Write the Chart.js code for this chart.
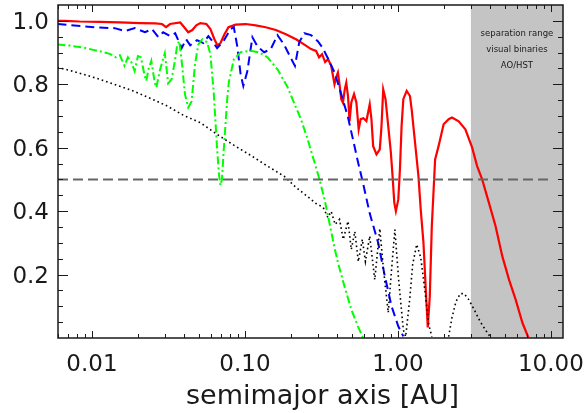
<!DOCTYPE html>
<html>
<head>
<meta charset="utf-8">
<script src="https://cdn.jsdelivr.net/npm/chart.js@4/dist/chart.umd.min.js"></script>
<style>
  html, body { margin: 0; padding: 0; background: #fff; }
  canvas { display: block; }
</style>
</head>
<body>
<canvas id="chart" width="584" height="413"></canvas>
<script>
/* ---- data (semimajor axis in AU, probability) ---- */

// red, solid
const redAU = [0.00595,0.00661,0.0083,0.0112,0.0152,0.0206,0.0259,0.0287,0.0305,0.0324,0.0378,0.0401,0.0426,0.0453,0.0481,0.0511,0.0560,0.0595,0.0632,0.0661,0.0692,0.0735,0.0781,0.0869,0.1011,0.1176,0.1368,0.1592,0.1853,0.2156,0.2433,0.2705,0.2918,0.3053,0.3195,0.3345,0.3500,0.3663,0.3850,0.3951,0.4054,0.4154,0.4262,0.4373,0.4494,0.4597,0.4718,0.4833,0.4959,0.5167,0.5351,0.5540,0.5710,0.5946,0.6222,0.6542,0.6714,0.6891,0.7245,0.7613,0.7812,0.8016,0.8300,0.8647,0.8994,0.9227,0.9469,0.9701,1.006,1.031,1.057,1.085,1.141,1.199,1.230,1.288,1.362,1.410,1.469,1.521,1.568,1.616,1.666,1.751,1.844,1.990,2.146,2.256,2.497,2.760,3.054,3.295,3.554,3.933,4.346,4.812,5.325,5.885,6.515,7.133];
const redP = [1.000,1.000,0.998,0.997,0.995,0.993,0.992,0.990,0.980,0.990,0.995,0.980,0.964,0.971,0.986,0.993,0.990,0.974,0.942,0.923,0.930,0.958,0.980,0.988,0.990,0.986,0.980,0.971,0.958,0.942,0.926,0.911,0.905,0.885,0.895,0.870,0.879,0.858,0.800,0.822,0.837,0.800,0.753,0.742,0.784,0.805,0.763,0.684,0.743,0.769,0.743,0.658,0.690,0.693,0.684,0.737,0.690,0.605,0.579,0.595,0.668,0.784,0.753,0.668,0.585,0.511,0.427,0.400,0.437,0.532,0.668,0.753,0.779,0.763,0.721,0.626,0.511,0.405,0.301,0.153,0.033,0.132,0.353,0.563,0.605,0.674,0.690,0.695,0.683,0.658,0.601,0.542,0.500,0.427,0.353,0.258,0.184,0.121,0.048,0.001];

// blue, dashed
const blueAU = [0.00595,0.00769,0.0109,0.0141,0.0164,0.0191,0.0222,0.0247,0.0271,0.0292,0.0324,0.0350,0.0386,0.0413,0.0439,0.0486,0.0535,0.0577,0.0613,0.0658,0.0724,0.0805,0.0846,0.0891,0.0937,0.0976,0.1037,0.1119,0.1207,0.1334,0.1476,0.1633,0.1797,0.1999,0.2123,0.2266,0.2444,0.2705,0.2995,0.3229,0.3484,0.3850,0.4262,0.4718,0.5087,0.5488,0.5920,0.6542,0.7432,0.8213,0.9090,1.006,1.085];
const blueP = [0.990,0.985,0.979,0.977,0.968,0.977,0.964,0.974,0.949,0.964,0.952,0.961,0.914,0.942,0.923,0.939,0.930,0.952,0.936,0.914,0.936,0.974,0.980,0.920,0.832,0.795,0.841,0.948,0.920,0.901,0.911,0.955,0.926,0.882,0.858,0.933,0.961,0.955,0.936,0.914,0.882,0.838,0.769,0.696,0.626,0.554,0.488,0.393,0.300,0.195,0.100,0.037,0.005];

// green, dash-dot
const greenAU = [0.00595,0.00714,0.00895,0.01124,0.01308,0.01432,0.01521,0.01633,0.01717,0.01798,0.01901,0.01998,0.02091,0.02212,0.02266,0.02343,0.02444,0.02573,0.02637,0.02789,0.02995,0.03078,0.03148,0.03319,0.03484,0.03607,0.03718,0.03850,0.04054,0.04262,0.04480,0.04718,0.04959,0.05267,0.05657,0.05948,0.06252,0.06582,0.06765,0.06922,0.07079,0.07275,0.07659,0.07846,0.08465,0.09370,0.1090,0.1231,0.1404,0.1633,0.1901,0.2101,0.2324,0.2573,0.2848,0.3073,0.3315,0.3575,0.3850,0.4054,0.4480,0.4959,0.5488,0.5920];
const greenP = [0.926,0.922,0.915,0.904,0.896,0.885,0.892,0.858,0.885,0.873,0.842,0.889,0.885,0.826,0.811,0.847,0.874,0.805,0.790,0.847,0.898,0.847,0.803,0.816,0.873,0.923,0.936,0.879,0.769,0.727,0.746,0.863,0.926,0.942,0.933,0.895,0.775,0.595,0.516,0.481,0.500,0.595,0.753,0.806,0.879,0.901,0.906,0.901,0.885,0.847,0.791,0.740,0.690,0.626,0.554,0.500,0.437,0.361,0.285,0.238,0.162,0.090,0.036,0.001];

// black, dotted (null = below the axis)
const blackAU = [0.00595,0.00714,0.00873,0.01124,0.01454,0.01861,0.0240,0.0309,0.0397,0.0511,0.0658,0.0846,0.1090,0.1404,0.1805,0.2156,0.2507,0.2918,0.3245,0.3484,0.3663,0.3892,0.4154,0.4393,0.4718,0.4959,0.5230,0.5512,0.5857,0.6131,0.6542,0.7060,0.7613,0.8051,0.8647,0.9090,0.9557,1.011,1.085,1.124,1.194,1.249,1.327,1.410,1.499,1.592,1.666,1.90,2.146,2.256,2.397,2.558,2.705,2.906,3.148,3.447,3.834,4.012];
const blackP = [0.853,0.844,0.832,0.816,0.797,0.779,0.756,0.732,0.702,0.679,0.642,0.608,0.576,0.542,0.510,0.475,0.450,0.424,0.412,0.380,0.399,0.358,0.374,0.311,0.368,0.279,0.336,0.241,0.311,0.241,0.321,0.184,0.345,0.216,0.080,0.216,0.342,0.184,0.026,0.004,0.121,0.232,0.295,0.254,0.153,0.042,0.004,null,0.004,0.064,0.115,0.140,0.140,0.121,0.090,0.052,0.017,0.004];

// 50% reference line
const halfAU = [0.006, 10];
const halfP = [0.5, 0.5];

// shaded separation range and its note
const shadeFromAU = 3;
const shadeNote = ["separation range", "visual binaries", "AO/HST"];

// axes
const xRange = [0.006, 12];
const yRange = [0, 1.05];
const xTicks = [0.01, 0.1, 1, 10];
const yTicks = [0.2, 0.4, 0.6, 0.8, 1.0];
const xTitle = "semimajor axis [AU]";

/* ---- helpers ---- */
const pairs = (xs, ys) => xs.map((x, i) => ({ x: x, y: ys[i] }));

const INK = "#1a1a1a";

// keep the plot box where the reference has it (no label overhang padding)
function noOverhang(s) {
    s.paddingLeft = 0;
    s.paddingRight = 0;
    s.paddingTop = 0;
    s.paddingBottom = 0;
}

/* ---- shading, frame, inward ticks and axis title (IDL style) ---- */
const idlFrame = {
    id: "idlFrame",
    beforeDatasetsDraw(chart) {
        const { ctx, chartArea: a, scales: { x } } = chart;
        const x0 = x.getPixelForValue(shadeFromAU);
        ctx.save();
        ctx.fillStyle = "#c4c4c4";
        ctx.fillRect(x0, a.top, a.right - x0, a.bottom - a.top);

        ctx.fillStyle = INK;
        ctx.font = "8.5px 'DejaVu Sans'";
        ctx.textAlign = "center";
        ctx.textBaseline = "middle";
        const cx = (x0 + a.right) / 2;
        shadeNote.forEach((t, i) => ctx.fillText(t, cx, 34 + i * 16));
        ctx.restore();
    },
    afterDatasetsDraw(chart) {
        const { ctx, chartArea: a, scales: { x, y } } = chart;
        ctx.save();
        ctx.strokeStyle = INK;
        ctx.lineWidth = 1;

        // x ticks, bottom and top
        const xMinor = [];
        [0.001, 0.01, 0.1, 1, 10].forEach(d => {
            for (let k = 2; k <= 9; k++) xMinor.push(d * k);
        });
        const tickX = (v, len) => {
            if (v < xRange[0] || v > xRange[1]) return;
            const px = Math.round(x.getPixelForValue(v)) + 0.5;
            ctx.beginPath();
            ctx.moveTo(px, a.bottom); ctx.lineTo(px, a.bottom - len);
            ctx.moveTo(px, a.top); ctx.lineTo(px, a.top + len);
            ctx.stroke();
        };
        xMinor.forEach(v => tickX(v, 4));
        xTicks.forEach(v => tickX(v, 7));

        // y ticks, left and right
        const tickY = (v, len) => {
            const py = Math.round(y.getPixelForValue(v)) + 0.5;
            ctx.beginPath();
            ctx.moveTo(a.left, py); ctx.lineTo(a.left + len, py);
            ctx.moveTo(a.right, py); ctx.lineTo(a.right - len, py);
            ctx.stroke();
        };
        for (let i = 1; i <= 20; i++) {
            const v = i * 0.05;
            const major = yTicks.some(t => Math.abs(t - v) < 1e-6);
            tickY(v, major ? 10 : 5);
        }

        // frame
        ctx.lineWidth = 1.5;
        ctx.strokeRect(a.left, a.top, a.right - a.left, a.bottom - a.top);

        // x axis title, sits a little right of the box centre as in the original
        ctx.fillStyle = INK;
        ctx.font = "27px 'DejaVu Sans'";
        ctx.textAlign = "center";
        ctx.textBaseline = "alphabetic";
        ctx.fillText(xTitle, (a.left + a.right) / 2 + 12, 404);
        ctx.restore();
    }
};

/* ---- chart ---- */
new Chart(document.getElementById("chart"), {
    type: "line",
    data: {
        datasets: [
            {
                data: pairs(halfAU, halfP),
                borderColor: "#666666",
                borderWidth: 2,
                borderDash: [10, 5]
            },
            {
                data: pairs(blackAU, blackP),
                borderColor: "#000000",
                borderWidth: 1.6,
                borderDash: [1.6, 3]
            },
            {
                data: pairs(greenAU, greenP),
                borderColor: "#00ff00",
                borderWidth: 2,
                borderDash: [8, 3, 2, 3]
            },
            {
                data: pairs(blueAU, blueP),
                borderColor: "#0000ff",
                borderWidth: 2,
                borderDash: [9, 5]
            },
            {
                data: pairs(redAU, redP),
                borderColor: "#ff0000",
                borderWidth: 2.2
            }
        ]
    },
    options: {
        responsive: false,
        animation: false,
        devicePixelRatio: 1,
        spanGaps: false,
        layout: { padding: { left: 0, right: 21, top: 5, bottom: 0 } },
        elements: {
            point: { radius: 0 },
            line: { tension: 0, fill: false }
        },
        plugins: {
            legend: { display: false },
            tooltip: { enabled: false }
        },
        scales: {
            x: {
                type: "logarithmic",
                min: xRange[0],
                max: xRange[1],
                grid: { display: false, drawTicks: false },
                border: { display: false },
                afterBuildTicks: s => { s.ticks = xTicks.map(v => ({ value: v })); },
                afterFit: s => { s.height = 75; noOverhang(s); },
                ticks: {
                    autoSkip: false,
                    maxRotation: 0,
                    padding: 13,
                    color: INK,
                    font: { family: "DejaVu Sans", size: 23 },
                    callback: v => Number(v).toFixed(2)
                }
            },
            y: {
                min: yRange[0],
                max: yRange[1],
                grid: { display: false, drawTicks: false },
                border: { display: false },
                afterBuildTicks: s => { s.ticks = yTicks.map(v => ({ value: v })); },
                afterFit: s => { s.width = 58; noOverhang(s); },
                ticks: {
                    autoSkip: false,
                    padding: 9,
                    labelOffset: 2,
                    color: INK,
                    font: { family: "DejaVu Sans", size: 23 },
                    callback: v => Number(v).toFixed(1)
                }
            }
        }
    },
    plugins: [idlFrame]
});
</script>
</body>
</html>
